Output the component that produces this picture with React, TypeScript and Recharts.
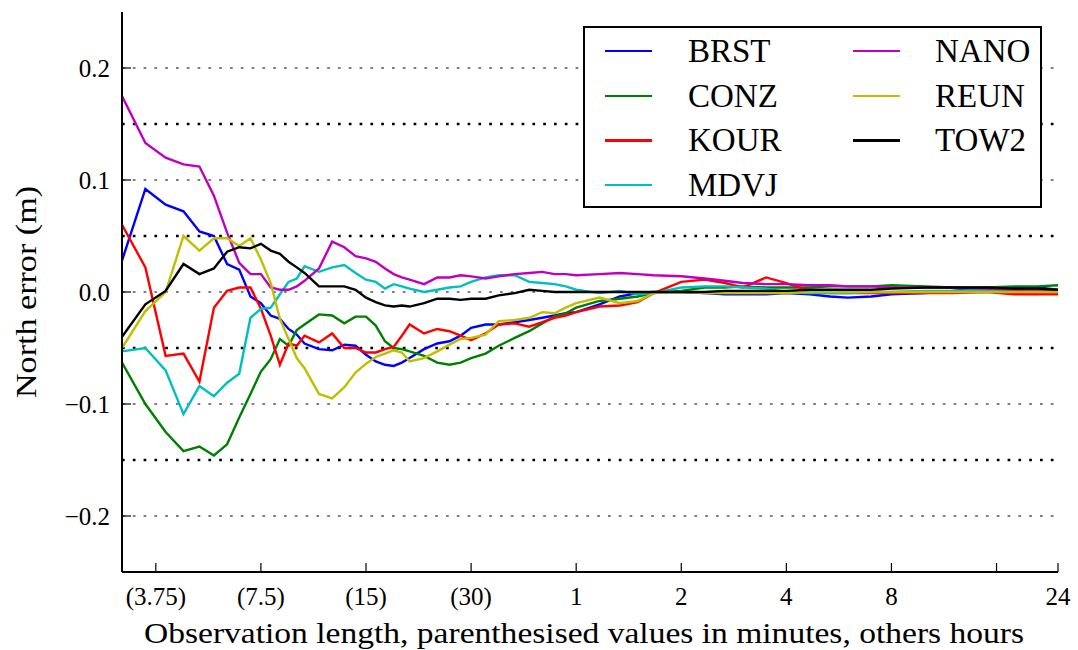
import React from 'react';
import { LineChart, Line, XAxis, YAxis, ReferenceLine, Legend } from 'recharts';

const FONT = "'Liberation Serif', 'DejaVu Serif', serif";

// observation length in minutes
const times = [3, 3.5, 4, 4.5, 5, 5.5, 6, 6.5, 7, 7.5,
  8, 8.5, 9, 9.5, 10, 11, 12, 13, 14, 15,
  16, 17, 18, 19, 20, 22, 24, 26, 28, 30,
  33, 36, 40, 44, 48, 52, 56, 60, 70, 80,
  90, 100, 120, 140, 160, 180, 210, 240, 280, 320,
  360, 420, 480, 600, 720, 900, 1080, 1260, 1440];

const BRST = [0.028, 0.092, 0.078, 0.072, 0.054, 0.050, 0.025, 0.020, -0.004, -0.010,
  -0.021, -0.024, -0.033, -0.038, -0.046, -0.051, -0.052, -0.047, -0.048, -0.056,
  -0.062, -0.065, -0.066, -0.063, -0.059, -0.051, -0.046, -0.044, -0.039, -0.032,
  -0.029, -0.029, -0.027, -0.025, -0.023, -0.021, -0.019, -0.018, -0.011, -0.004,
  -0.001, 0.000, 0.000, -0.001, -0.002, -0.002, -0.002, -0.001, -0.002, -0.004,
  -0.005, -0.004, -0.002, -0.001, 0.001, 0.004, 0.004, 0.004, 0.002];

const CONZ = [-0.063, -0.100, -0.125, -0.142, -0.138, -0.146, -0.136, -0.112, -0.091, -0.071,
  -0.060, -0.042, -0.048, -0.034, -0.029, -0.020, -0.021, -0.028, -0.022, -0.022,
  -0.030, -0.044, -0.050, -0.051, -0.053, -0.057, -0.063, -0.065, -0.063, -0.059,
  -0.055, -0.048, -0.041, -0.035, -0.028, -0.022, -0.019, -0.014, -0.008, -0.006,
  -0.004, -0.001, 0.001, 0.004, 0.004, 0.005, 0.004, 0.004, 0.004, 0.005,
  0.005, 0.005, 0.006, 0.005, 0.004, 0.004, 0.005, 0.005, 0.006];

const KOUR = [0.060, 0.022, -0.057, -0.055, -0.080, -0.014, 0.001, 0.004, 0.004, -0.015,
  -0.039, -0.065, -0.046, -0.048, -0.039, -0.045, -0.037, -0.050, -0.050, -0.054,
  -0.054, -0.051, -0.049, -0.039, -0.029, -0.037, -0.033, -0.035, -0.039, -0.043,
  -0.037, -0.029, -0.028, -0.031, -0.027, -0.023, -0.021, -0.018, -0.013, -0.012,
  -0.009, -0.001, 0.009, 0.011, 0.008, 0.004, 0.013, 0.008, 0.001, -0.001,
  -0.001, -0.001, -0.001, -0.001, -0.001, 0.000, -0.002, -0.002, -0.002];

const MDVJ = [-0.053, -0.050, -0.070, -0.109, -0.084, -0.093, -0.081, -0.073, -0.023, -0.015,
  -0.014, -0.002, 0.009, 0.012, 0.023, 0.018, 0.022, 0.024, 0.017, 0.011,
  0.009, 0.003, 0.007, 0.005, 0.003, 0.000, 0.002, 0.004, 0.005, 0.009,
  0.013, 0.015, 0.015, 0.009, 0.008, 0.007, 0.005, 0.002, -0.001, 0.001,
  -0.002, -0.001, 0.004, 0.005, 0.005, 0.004, 0.003, 0.000, -0.001, -0.001,
  -0.001, 0.000, 0.000, 0.001, 0.001, 0.002, 0.002, 0.002, 0.002];

const NANO = [0.175, 0.133, 0.120, 0.114, 0.112, 0.086, 0.053, 0.026, 0.016, 0.016,
  0.004, 0.002, 0.002, 0.005, 0.010, 0.021, 0.045, 0.040, 0.032, 0.030,
  0.027, 0.021, 0.016, 0.013, 0.011, 0.007, 0.013, 0.013, 0.015, 0.014,
  0.012, 0.014, 0.016, 0.017, 0.018, 0.016, 0.016, 0.015, 0.016, 0.017,
  0.016, 0.015, 0.014, 0.012, 0.010, 0.008, 0.007, 0.007, 0.006, 0.006,
  0.005, 0.005, 0.004, 0.004, 0.004, 0.003, 0.002, 0.001, 0.001];

const REUN = [-0.050, -0.017, 0.000, 0.050, 0.037, 0.048, 0.048, 0.041, 0.048, 0.029,
  0.008, -0.024, -0.042, -0.059, -0.068, -0.091, -0.095, -0.085, -0.072, -0.064,
  -0.058, -0.055, -0.052, -0.054, -0.062, -0.059, -0.053, -0.047, -0.042, -0.041,
  -0.038, -0.026, -0.025, -0.023, -0.018, -0.019, -0.014, -0.010, -0.005, -0.010,
  -0.008, -0.001, 0.000, -0.001, -0.001, -0.001, -0.001, -0.001, 0.000, 0.000,
  0.000, 0.000, 0.000, 0.000, 0.000, 0.000, 0.000, 0.000, 0.000];

const TOW2 = [-0.040, -0.011, 0.001, 0.025, 0.016, 0.021, 0.036, 0.040, 0.039, 0.043,
  0.037, 0.034, 0.027, 0.022, 0.017, 0.005, 0.005, 0.005, 0.002, -0.005,
  -0.009, -0.012, -0.013, -0.012, -0.013, -0.010, -0.006, -0.006, -0.007, -0.006,
  -0.006, -0.003, -0.001, 0.002, 0.001, 0.000, 0.000, 0.000, 0.000, 0.000,
  0.000, 0.000, 0.000, 0.000, 0.001, 0.001, 0.001, 0.001, 0.002, 0.002,
  0.002, 0.002, 0.003, 0.004, 0.004, 0.004, 0.003, 0.003, 0.002];

const stationNames = ['BRST', 'CONZ', 'KOUR', 'MDVJ', 'NANO', 'REUN', 'TOW2'];
const stationColors = ['#0000ff', '#008000', '#ff0000', '#00bfbf', '#bf00bf', '#bfbf00', '#000000'];
const stationValues = [BRST, CONZ, KOUR, MDVJ, NANO, REUN, TOW2];

const xTicks = [3.75, 7.5, 15, 30, 60, 120, 240, 480, 960, 1440];
const xTickLabels = ['(3.75)', '(7.5)', '(15)', '(30)', '1', '2', '4', '8', '', '24'];
const yTicks = [-0.2, -0.1, 0, 0.1, 0.2];
const yTickLabels = ['\u22120.2', '\u22120.1', '0.0', '0.1', '0.2'];
const thinGrid = [-0.2, -0.1, 0, 0.1, 0.2];
const boldGrid = [-0.15, -0.05, 0.05, 0.15];

const xLabelText = 'Observation length, parenthesised values in minutes, others hours';
const yLabelText = 'North error (m)';

const data = times.map((t, i) => {
  const row: Record<string, number> = { t };
  stationNames.forEach((n, k) => { row[n] = stationValues[k][i]; });
  return row;
});

const TICK_LEN = 9;
const txtStyle = { fontFamily: FONT } as React.CSSProperties;

const BottomTick = (props: any) => {
  const { x, y, payload } = props;
  const idx = xTicks.indexOf(payload.value);
  return (
    <g>
      <line x1={x} x2={x} y1={y} y2={y - TICK_LEN} stroke="#000" strokeWidth={1.2} />
      <text x={x} y={y + 33} textAnchor="middle" style={txtStyle} fontSize={25} fill="#000">
        {idx >= 0 ? xTickLabels[idx] : ''}
      </text>
    </g>
  );
};

const TopTick = (props: any) => {
  const { x, y } = props;
  return <line x1={x} x2={x} y1={y} y2={y + TICK_LEN} stroke="#000" strokeWidth={1.2} />;
};

const LeftTick = (props: any) => {
  const { x, y, payload } = props;
  const idx = yTicks.findIndex((v) => Math.abs(v - payload.value) < 1e-9);
  return (
    <g>
      <line x1={x} x2={x + TICK_LEN} y1={y} y2={y} stroke="#000" strokeWidth={1.2} />
      <text x={x - 12} y={y} dy="0.34em" textAnchor="end" style={txtStyle} fontSize={25} fill="#000">
        {idx >= 0 ? yTickLabels[idx] : ''}
      </text>
    </g>
  );
};

const RightTick = (props: any) => {
  const { x, y } = props;
  return <line x1={x} x2={x - TICK_LEN} y1={y} y2={y} stroke="#000" strokeWidth={1.2} />;
};

const XLabel = () => (
  <text x={584} y={643} textAnchor="middle" style={txtStyle} fontSize={30} fill="#000"
    textLength={880} lengthAdjust="spacingAndGlyphs">{xLabelText}</text>
);

const YLabel = () => (
  <text transform="translate(36,292) rotate(-90)" x={0} y={0} textAnchor="middle" style={txtStyle}
    fontSize={30} fill="#000" textLength={212} lengthAdjust="spacingAndGlyphs">{yLabelText}</text>
);

const LegendBox = () => (
  <div style={{ position: 'relative', width: 459, height: 182, boxSizing: 'border-box', border: '2px solid #000', background: '#fff', fontFamily: FONT }}>
    {stationNames.map((name, i) => {
      const col = i < 4 ? 0 : 1;
      const row = i < 4 ? i : i - 4;
      const cy = 25 + row * 44.7 - 2;
      const lx = (col === 0 ? 22 : 270) - 2;
      const tx = (col === 0 ? 105 : 352) - 2;
      return (
        <React.Fragment key={name}>
          <div style={{ position: 'absolute', left: lx, top: cy - 1, width: 47, height: 2.4, background: stationColors[i] }} />
          <div style={{ position: 'absolute', left: tx, top: cy, transform: 'translateY(-50%)', fontSize: 33, lineHeight: 1, color: '#000', whiteSpace: 'nowrap', fontFamily: FONT }}>{name}</div>
        </React.Fragment>
      );
    })}
  </div>
);

export default function App() {
  return (
    <div style={{ position: 'absolute', left: 0, top: 0, width: 1078, height: 650, background: '#fff', fontFamily: FONT }}>
      <LineChart width={1078} height={650} data={data} margin={{ top: 12, right: 20, bottom: 0, left: 0 }} style={{ fontFamily: FONT }}>
        <XAxis dataKey="t" type="number" scale="log" domain={[3, 1440]} allowDataOverflow ticks={xTicks}
          height={78} tickSize={0} tickMargin={0} tickLine={false} interval={0}
          axisLine={{ stroke: '#000', strokeWidth: 2 }} tick={<BottomTick />} label={<XLabel />} />
        <XAxis xAxisId="top" orientation="top" dataKey="t" type="number" scale="log" domain={[3, 1440]} allowDataOverflow
          ticks={xTicks} height={0} tickSize={0} tickMargin={0} tickLine={false} interval={0}
          axisLine={{ stroke: '#000', strokeWidth: 2 }} tick={<TopTick />} />
        <YAxis type="number" domain={[-0.25, 0.25]} allowDataOverflow ticks={yTicks} width={122}
          tickSize={0} tickMargin={0} tickLine={false} interval={0}
          axisLine={{ stroke: '#000', strokeWidth: 2 }} tick={<LeftTick />} label={<YLabel />} />
        <YAxis yAxisId="right" orientation="right" type="number" domain={[-0.25, 0.25]} allowDataOverflow ticks={yTicks} width={0}
          tickSize={0} tickMargin={0} tickLine={false} interval={0}
          axisLine={{ stroke: '#000', strokeWidth: 2 }} tick={<RightTick />} />
        {thinGrid.map((v) => (
          <ReferenceLine key={'t' + v} y={v} stroke="#000" strokeWidth={1} strokeDasharray="2.7 8.1" />
        ))}
        {boldGrid.map((v) => (
          <ReferenceLine key={'b' + v} y={v} stroke="#000" strokeWidth={2.7} strokeDasharray="2.7 8.1" />
        ))}
        {stationNames.map((name, i) => (
          <Line key={name} dataKey={name} name={name} stroke={stationColors[i]} strokeWidth={2.4}
            dot={false} activeDot={false} isAnimationActive={false} type="linear" />
        ))}
        <Legend layout="horizontal" verticalAlign="middle" align="center" content={<LegendBox />}
          wrapperStyle={{ left: 583, top: 26, width: 459, height: 182 }} />
      </LineChart>
    </div>
  );
}
